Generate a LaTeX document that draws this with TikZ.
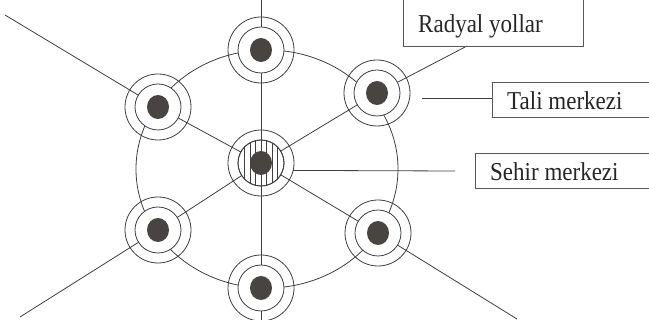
\documentclass[tikz,border=0pt]{standalone}
\usepackage{fontspec}
\setmainfont{Liberation Serif}
\usetikzlibrary{shapes.geometric}
\newcommand{\tallt}[1]{\scalebox{1}[1.12]{#1}}
\begin{document}
\begin{tikzpicture}[x=1pt,y=-1pt,
  ln/.style={draw=black!75, line width=0.8pt},
  outer/.style={circle, draw=black!75, line width=0.8pt, minimum size=66pt, inner sep=0pt, outer sep=0pt},
  inner/.style={circle, draw=black!75, line width=0.8pt, fill=white, minimum size=46pt, inner sep=0pt, outer sep=0pt},
  dot/.style={ellipse, fill=dotc, minimum width=22pt, minimum height=24pt, inner sep=0pt},
  frame/.style={draw=black!65, line width=0.7pt},
  lbl/.style={font=\fontsize{23}{26}\selectfont, text=black!85, inner sep=0pt}
]
\definecolor{dotc}{RGB}{72,68,64}
\useasboundingbox (0,0) rectangle (649,320);
\fill[white] (0,0) rectangle (649,320);

% ring road (ellipse)
\draw[ln] (267,169) ellipse [x radius=131, y radius=119];

% positions
\coordinate (pc) at (261,163);
\coordinate (pt) at (261,50);
\coordinate (pb) at (261,288);
\coordinate (pul) at (158,107);
\coordinate (pll) at (158,230);
\coordinate (pur) at (377,93);
\coordinate (plr) at (378,233);

% outer rings
\foreach \n in {c,t,b,ul,ll,ur,lr}{
  \node[outer] (\n o) at (p\n) {};
}
% inner rings
\foreach \n in {c,t,b,ul,ll,ur,lr}{
  \node[inner] (\n) at (p\n) {};
}
% hatching of city centre
\begin{scope}
  \clip (pc) circle (23);
  \foreach \dx in {-16.5,-11,-5.5,0,5.5,11,16.5}
    \draw[ln] ([xshift=\dx pt]c.north) ++(0,-2) -- ([xshift=\dx pt]c.south);
\end{scope}
\node[inner, fill=none] at (pc) {};
% dots
\foreach \n in {c,t,b,ul,ll,ur,lr}{
  \node[dot] (\n d) at (p\n) {};
}

% free ends
\coordinate (ea) at (261,0);
\coordinate (eb) at (261,320);
\coordinate (eul) at (5,15);
\coordinate (ell) at (20,317);
\coordinate (elr) at (517,319);
\coordinate (erad) at (467,46);
\coordinate (tali1) at (422,98);
\coordinate (tali2) at (492,98);
\coordinate (sehir2) at (455,171);

% radial roads
\draw[ln] (ea) -- (t);
\draw[ln] (t) -- (c);
\draw[ln] (c) -- (b);
\draw[ln] (b) -- (eb);
\draw[ln] (c) -- (ul);
\draw[ln] (c) -- (ll);
\draw[ln] (c) -- (ur);
\draw[ln] (c) -- (lr);
\draw[ln] (ul) -- (eul);
\draw[ln] (ll) -- (ell);
\draw[ln] (lr) -- (elr);
\draw[ln] (ur) -- (erad);

% label leaders
\draw[ln] (tali1) -- (tali2);
\draw[ln] (co.-13) -- (sehir2);

% label boxes
\draw[frame] (403,-10) rectangle (583,46);
\node[lbl, anchor=base west] (radyal) at (418,33) {\tallt{Radyal yollar}};
\draw[frame] (492,82) rectangle (660,117);
\node[lbl, anchor=base west] (tali) at (507,110) {\tallt{Tali merkezi}};
\draw[frame] (475,153) rectangle (660,188);
\node[lbl, anchor=base west] (sehir) at (490,181) {\tallt{Sehir merkezi}};
\end{tikzpicture}
\end{document}
